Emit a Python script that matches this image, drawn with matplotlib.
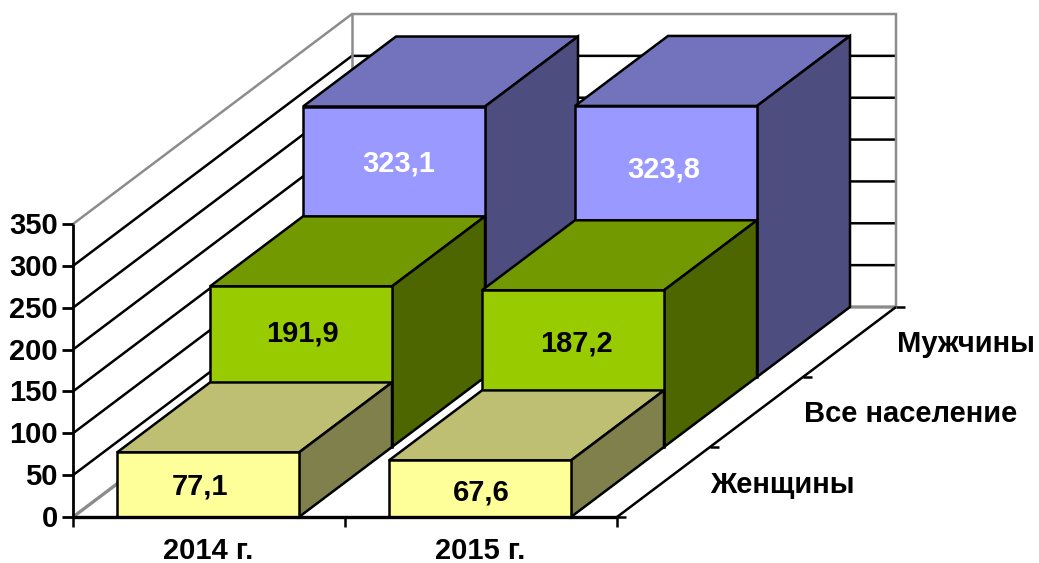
import matplotlib
matplotlib.use("Agg")
import matplotlib.pyplot as plt
from matplotlib.patches import Polygon

plt.rcParams['font.family'] = ['Liberation Sans', 'DejaVu Sans']

# --- data ---
categories = ['2014 г.', '2015 г.']
series_names = ['Женщины', 'Все население', 'Мужчины']
women = [77.1, 67.6]
population = [191.9, 187.2]
men = [323.1, 323.8]
y_ticks = [0, 50, 100, 150, 200, 250, 300, 350]

# --- styling / layout ---
series_values = [women, population, men]
front_colors = ['#FFFF99', '#99CC00', '#9999FF']
top_colors = ['#BFBF73', '#739900', '#7373BD']
side_colors = ['#80804D', '#4D6600', '#4D4D80']
label_colors = ['black', 'black', 'white']
label_offsets = [[(-9, 2), (0, 4)], [(0, -1), (2, 3)], [(4, 2), (-3, 6)]]

X0, Y0 = 73.0, 517.0       # origin in pixels
CAT_W = 272.0              # width of one category
UNIT = 293.0 / 350.0       # pixels per value unit
DX, DY = 93.0, -70.0       # pixel shift per depth slot
GAP = 44.0 / 272.0
BAR_W = 182.0 / 272.0
LW = 1.8
FS = 21
GREY = '#8C8C8C'


def project(c, v, d):
    return (X0 + c * CAT_W + d * DX, Y0 - v * UNIT + d * DY)


fig = plt.figure(figsize=(10.39, 5.63), dpi=100)
ax = fig.add_axes([0, 0, 1, 1])
ax.set_xlim(0, 1039)
ax.set_ylim(563, 0)
ax.axis('off')


def line(points, color='black', lw=LW, z=1):
    xs, ys = zip(*points)
    ax.plot(xs, ys, color=color, lw=lw, zorder=z, solid_capstyle='butt',
            solid_joinstyle='miter')


n_c, n_d = len(categories), len(series_names)
vmax, vmin = y_ticks[-1], y_ticks[0]

# walls: gridlines
for v in y_ticks[1:-1]:
    line([project(0, v, 0), project(0, v, n_d), project(n_c, v, n_d)])
# walls: outline
line([project(0, vmax, 0), project(0, vmax, n_d), project(n_c, vmax, n_d),
      project(n_c, vmin, n_d)], color=GREY, z=1.5)
line([project(0, vmin, n_d), project(0, vmax, n_d)], color=GREY, z=1.5)
line([project(0, vmin, 0), project(0, vmin, n_d), project(n_c, vmin, n_d)],
     color=GREY, lw=LW + 0.6, z=1.5)

# bars, back to front
z = 3
for d in reversed(range(n_d)):
    for c in range(n_c):
        v = series_values[d][c]
        l, r = c + GAP, c + GAP + BAR_W
        faces = [
            ([project(l, v, d), project(r, v, d), project(r, v, d + 1), project(l, v, d + 1)], top_colors[d]),
            ([project(r, 0, d), project(r, v, d), project(r, v, d + 1), project(r, 0, d + 1)], side_colors[d]),
            ([project(l, 0, d), project(r, 0, d), project(r, v, d), project(l, v, d)], front_colors[d]),
        ]
        for pts, col in faces:
            ax.add_patch(Polygon(pts, closed=True, facecolor=col, edgecolor='black',
                                 lw=LW, joinstyle='miter', zorder=z))
        # the visible part of the front face ends at the top of the bar in front of it
        hidden = series_values[d - 1][c] if d > 0 else 0
        px, y_top = project(c + 0.5, v, d)
        _, y_bottom = project(c + 0.5, hidden, d)
        ox, oy = label_offsets[d][c]
        ax.text(px + ox, (y_top + y_bottom) / 2 + oy, f'{v:.1f}'.replace('.', ','),
                ha='center', va='center', fontsize=FS, fontweight='bold',
                color=label_colors[d], zorder=100)
        z += 2

# axes lines and ticks
top_z = 90
line([project(0, vmin, 0), project(0, vmax, 0)], lw=LW + 0.2, z=top_z)
line([project(0, vmin, 0), project(n_c, vmin, 0)], lw=LW + 0.6, z=top_z)
line([project(n_c, vmin, 0), project(n_c, vmin, n_d)], lw=LW, z=top_z)
for v in y_ticks:
    x, y = project(0, v, 0)
    line([(x - 11, y), (x, y)], lw=LW + 0.2, z=top_z)
    ax.text(x - 15, y + 2, str(v), ha='right', va='center', fontsize=FS, fontweight='bold')
for c in range(n_c + 1):
    x, y = project(c, vmin, 0)
    line([(x, y), (x, y + 10)], lw=LW, z=top_z)
for d in range(n_d + 1):
    x, y = project(n_c, vmin, d)
    line([(x, y), (x + 9, y)], lw=LW, z=top_z)

for c, name in enumerate(categories):
    x, y = project(c + 0.5, vmin, 0)
    ax.text(x - 1, y + 34, name, ha='center', va='center', fontsize=FS, fontweight='bold')

series_label_left = [710, 804, 897]
series_label_y = [485, 414, 344]
for name, x, y in zip(series_names, series_label_left, series_label_y):
    ax.text(x, y, name, ha='left', va='center', fontsize=FS, fontweight='bold')

fig.savefig('out.png', dpi=100, facecolor='white')
